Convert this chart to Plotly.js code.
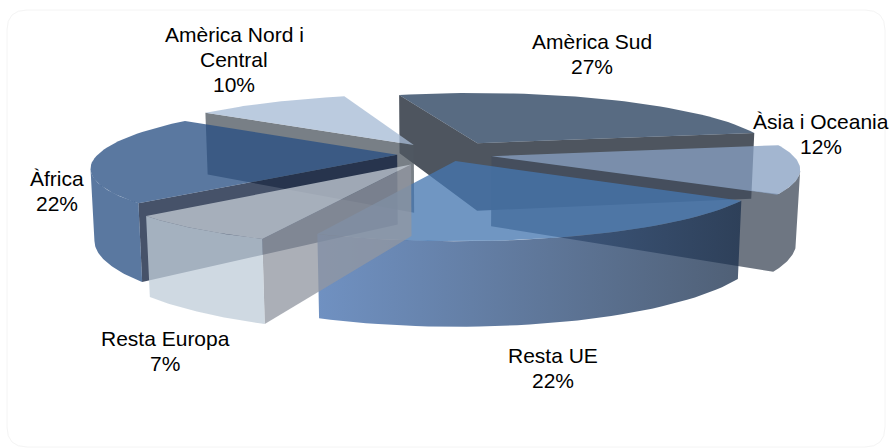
<!DOCTYPE html>
<html><head><meta charset="utf-8"><script src="https://cdn.plot.ly/plotly-3.0.0.min.js"></script>
<style>html,body{margin:0;padding:0;background:#fff}</style></head><body><div id="c" style="width:892px;height:448px"></div>
<script>
var categories=["Amèrica Sud","Àsia i Oceania","Resta UE","Resta Europa","Àfrica","Amèrica Nord i|Central"];
var values=[27,12,22,7,22,10];
var pulls=[0.21231,0.15652,0.11255,0.19315,0.16046,0.18725];
var rotation=-8.5543;
// projective camera of the 3D pie: pie plane (a,b), depth w -> pixels
var camX=[445.28,308.09,34.121,4.7813];
var camY=[154.23,-5.6673,-34.665,72.007];
var camD=[0.026184,0.17807,0.010661];
var labelX=[592,821,553,165,57,234];
var labelY=[41,121,355,338,178,34];

var cum=[],t=0;values.forEach(function(v){cum.push(t);t+=v;});
var RAD=Math.PI/180;
function ang(i,f){return (rotation+3.6*(cum[i]+f*values[i]))*RAD;}
function pr(i,f,r,w){var th=ang(i,f),m=ang(i,.5),e=pulls[i];
 var a=r*Math.sin(th)+e*Math.sin(m),b=r*Math.cos(th)+e*Math.cos(m);
 var d=1+camD[0]*a+camD[1]*b+camD[2]*w;
 return [(camX[0]+camX[1]*a+camX[2]*b+camX[3]*w)/d,(camY[0]+camY[1]*a+camY[2]*b+camY[3]*w)/d];}
function poly(pts,style){var o={x:pts.map(function(p){return p[0];}),y:pts.map(function(p){return p[1];}),mode:"lines",line:{width:0},fill:"toself",hoverinfo:"skip",showlegend:false,type:"scatter"};
 for(var k in style)o[k]=style[k];return o;}
function arc(i,w,f0,f1){var a=[];for(var n=0;n<=40;n++){a.push(pr(i,f0+(f1-f0)*n/40,1,w));}return a;}
function extremeF(i,sign){var best=-1e9,bf=0;for(var n=0;n<=400;n++){var x=sign*pr(i,n/400,1,0)[0];if(x>best){best=x;bf=n/400;}}return bf;}
var tr=[];
function wall(i,f,col){tr.push(poly([pr(i,f,0,0),pr(i,f,1,0),pr(i,f,1,1),pr(i,f,0,1)],{fillcolor:col}));}
function bothWalls(i,col){tr.push(poly([pr(i,0,1,0),pr(i,0,0,0),pr(i,1,1,0),pr(i,1,1,1),pr(i,0,0,1),pr(i,0,1,1)],{fillcolor:col}));}
function endAndOuter(i,f0,col){tr.push(poly([pr(i,1,0,0)].concat(arc(i,0,1,f0),arc(i,1,f0,1),[pr(i,1,0,1)]),{fillcolor:col}));}
function outer(i,f0,f1,style){tr.push(poly(arc(i,0,f0,f1).concat(arc(i,1,f1,f0)),style));}
function topFace(i,col){tr.push(poly([pr(i,0,0,0)].concat(arc(i,0,0,1)),{fillcolor:col}));}
// draw order, back to front
bothWalls(0,"rgba(25,34,47,.77)");topFace(0,"rgba(38,62,92,.77)");
wall(5,0,"rgba(79,88,98,.77)");topFace(5,"rgba(167,187,213,.77)");
endAndOuter(1,extremeF(1,1),"rgba(66,77,92,.77)");topFace(1,"rgba(135,160,194,.77)");
wall(4,0,"rgba(14,30,60,.77)");outer(4,0,extremeF(4,-1),{fillcolor:"rgba(40,79,131,.77)"});topFace(4,"rgba(40,79,131,.77)");
outer(2,0,1,{fillgradient:{type:"horizontal",colorscale:[[0,"rgba(69,112,175,.77)"],[1,"rgba(27,48,77,.77)"]]}});
topFace(2,"rgba(69,118,175,.77)");
wall(3,0,"rgba(146,151,161,.77)");outer(3,0,1,{fillcolor:"rgba(193,205,217,.77)"});topFace(3,"rgba(195,203,212,.77)");

var ann=[];
categories.forEach(function(n,i){
 n.split("|").concat([values[i]+"%"]).forEach(function(line,k){
  ann.push({x:labelX[i],y:labelY[i]+k*25,xref:"x",yref:"y",text:line,showarrow:false,xanchor:"center",yanchor:"middle",font:{size:21,color:"#000",family:"Liberation Sans, Arial, sans-serif"}});
 });
});
var r=20,L=7,R=885,T=10,B=447;
var card="M"+(L+r)+","+T+" L"+(R-r)+","+T+" Q"+R+","+T+" "+R+","+(T+r)+" L"+R+","+(B-r)+" Q"+R+","+B+" "+(R-r)+","+B+" L"+(L+r)+","+B+" Q"+L+","+B+" "+L+","+(B-r)+" L"+L+","+(T+r)+" Q"+L+","+T+" "+(L+r)+","+T+" Z";
Plotly.newPlot("c",tr,{width:892,height:448,margin:{l:0,r:0,t:0,b:0},paper_bgcolor:"#fff",plot_bgcolor:"#fff",showlegend:false,
 xaxis:{range:[0,892],visible:false,fixedrange:true},yaxis:{range:[448,0],visible:false,fixedrange:true},annotations:ann,
 shapes:[{type:"path",path:card,xref:"x",yref:"y",line:{color:"#f4f4f4",width:1},fillcolor:"rgba(0,0,0,0)",layer:"below"}]},{displayModeBar:false});
</script></body></html>
